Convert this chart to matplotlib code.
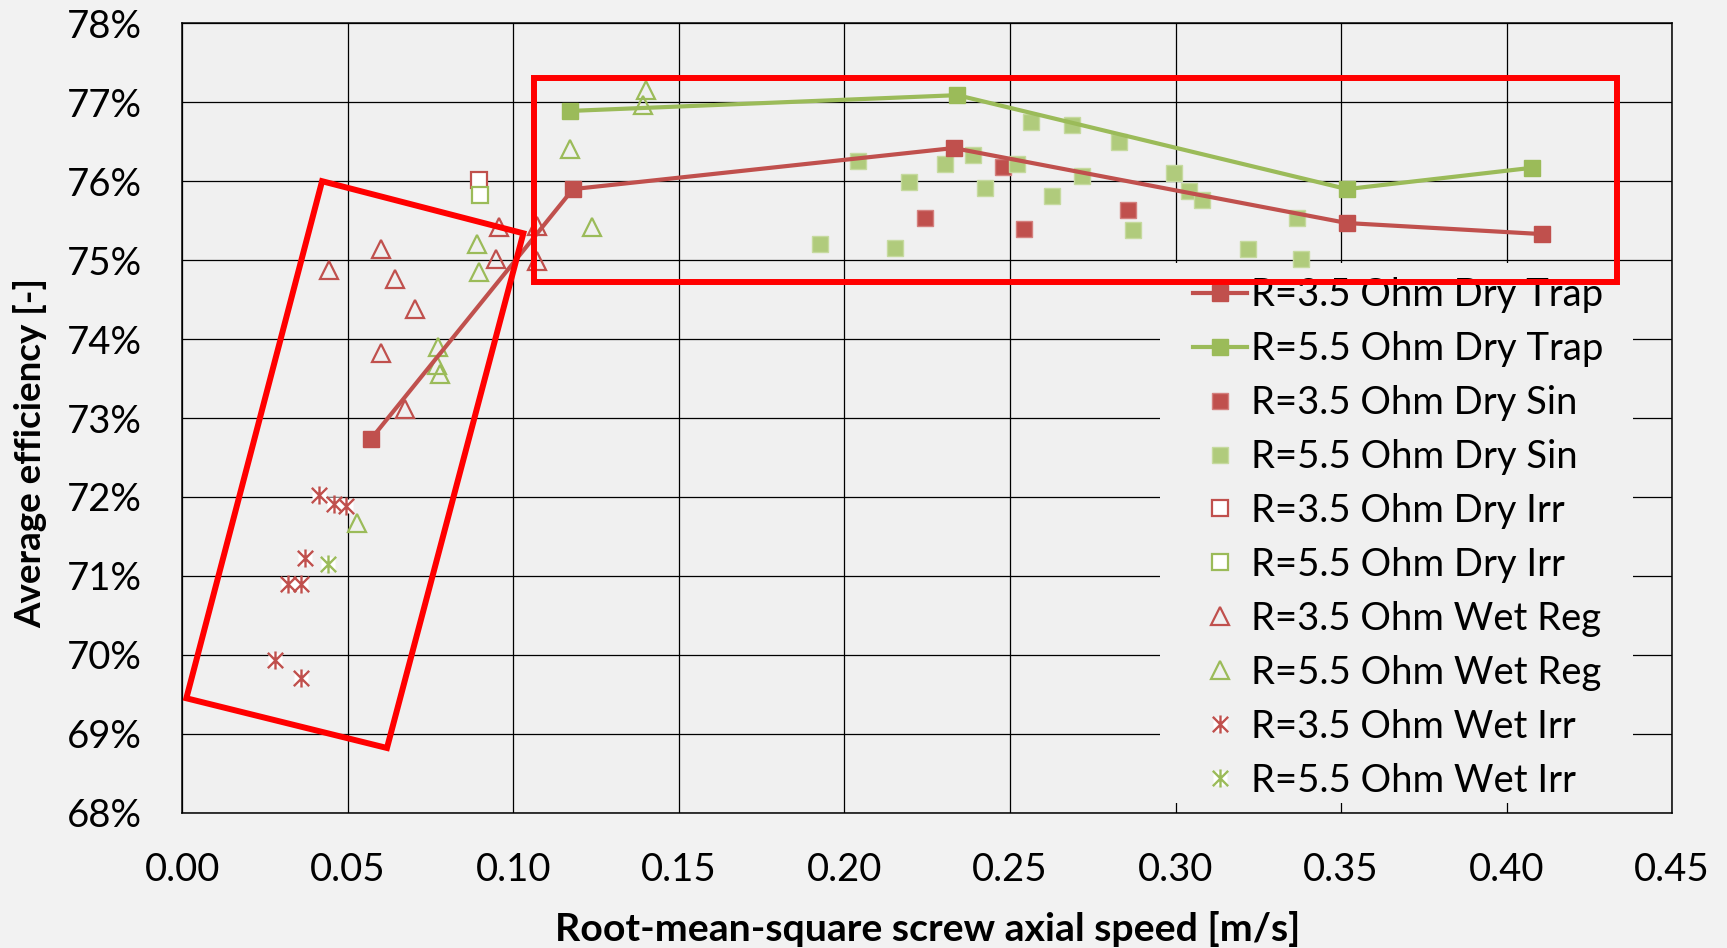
import numpy as np
import matplotlib
matplotlib.use('Agg')
import matplotlib.pyplot as plt
from matplotlib.path import Path
from matplotlib.patches import Polygon, Rectangle
from matplotlib.legend_handler import HandlerTuple
from matplotlib.ticker import FuncFormatter, MultipleLocator

plt.rcParams['font.family'] = ['Lato', 'DejaVu Sans']

# ---------------------------------------------------------------------------
# Data (x = RMS screw axial speed [m/s], y = average efficiency [%])
# ---------------------------------------------------------------------------
trap35_x = [0.0569, 0.1180, 0.2330, 0.3518, 0.4107]
trap35_y = [72.73, 75.90, 76.42, 75.47, 75.33]
trap55_x = [0.1171, 0.2341, 0.3518, 0.4077]
trap55_y = [76.89, 77.09, 75.90, 76.17]

sin35_x = [0.2242, 0.2478, 0.2542, 0.2855]
sin35_y = [75.53, 76.18, 75.40, 75.63]
sin55_x = [0.1925, 0.2042, 0.2154, 0.2196, 0.2304, 0.2387, 0.2425, 0.2522,
           0.2563, 0.2626, 0.2687, 0.2717, 0.2828, 0.2871, 0.2995, 0.3042,
           0.3080, 0.3218, 0.3368, 0.3380]
sin55_y = [75.20, 76.25, 75.16, 75.99, 76.22, 76.33, 75.91, 76.22,
           76.75, 75.81, 76.71, 76.07, 76.50, 75.38, 76.11, 75.87,
           75.76, 75.14, 75.53, 75.02]

irr35_x = [0.0896]
irr35_y = [76.02]
irr55_x = [0.0898]
irr55_y = [75.82]

wetreg35_x = [0.0442, 0.0599, 0.0600, 0.0641, 0.0671, 0.0702, 0.0948, 0.0955, 0.1071, 0.1071]
wetreg35_y = [74.87, 73.82, 75.14, 74.76, 73.11, 74.38, 75.02, 75.42, 75.43, 74.99]
wetreg55_x = [0.0528, 0.0769, 0.0772, 0.0778, 0.0891, 0.0895, 0.1171, 0.1237, 0.1390, 0.1401]
wetreg55_y = [71.67, 73.67, 73.90, 73.56, 75.20, 74.85, 76.41, 75.42, 76.96, 77.15]

wetirr35_x = [0.0281, 0.0318, 0.0359, 0.0359, 0.0369, 0.0414, 0.0459, 0.0495]
wetirr35_y = [69.94, 70.90, 70.90, 69.71, 71.23, 72.03, 71.91, 71.88]
wetirr55_x = [0.0440]
wetirr55_y = [71.15]

# highlight boxes drawn on the chart (data coordinates)
box_low_x = [0.0422, 0.1030, 0.0618, 0.0012]
box_low_y = [76.00, 75.34, 68.82, 69.45]
box_high_x = [0.1062, 0.4335, 0.4335, 0.1062]
box_high_y = [77.31, 77.31, 74.72, 74.72]

labels = ['R=3.5 Ohm Dry Trap', 'R=5.5 Ohm Dry Trap',
          'R=3.5 Ohm Dry Sin', 'R=5.5 Ohm Dry Sin',
          'R=3.5 Ohm Dry Irr', 'R=5.5 Ohm Dry Irr',
          'R=3.5 Ohm Wet Reg', 'R=5.5 Ohm Wet Reg',
          'R=3.5 Ohm Wet Irr', 'R=5.5 Ohm Wet Irr']

RED = '#C0504D'
GREEN = '#9BBB59'
PLOT_BG = '#F0F0F0'

# Excel-style asterisk: vertical bar + X
star = Path([(0, -1), (0, 1), (-0.85, -0.85), (0.85, 0.85), (-0.85, 0.85), (0.85, -0.85)],
            [Path.MOVETO, Path.LINETO, Path.MOVETO, Path.LINETO, Path.MOVETO, Path.LINETO])

# ---------------------------------------------------------------------------
# Plot
# ---------------------------------------------------------------------------
fig = plt.figure(figsize=(17.27, 9.48), dpi=100, facecolor='#F2F2F2')
ax = fig.add_axes([0.1056, 0.1427, 0.8626, 0.8327])
ax.set_facecolor(PLOT_BG)

h1, = ax.plot(trap35_x, trap35_y, '-s', color=RED, lw=3, ms=11.5, zorder=4)
h2, = ax.plot(trap55_x, trap55_y, '-s', color=GREEN, lw=3, ms=11.5, zorder=4)
h3, = ax.plot(sin35_x, sin35_y, 's', ls='none', mfc=RED, mec='#D4807E', mew=1, ms=12, zorder=3)
h4, = ax.plot(sin55_x, sin55_y, 's', ls='none', mfc='#B0CB7C', mec='#C6DA9F', mew=1, ms=12, zorder=3)
h5, = ax.plot(irr35_x, irr35_y, 's', ls='none', mfc='white', mec=RED, mew=1.6, ms=11.5, zorder=3)
h6, = ax.plot(irr55_x, irr55_y, 's', ls='none', mfc='white', mec=GREEN, mew=1.6, ms=11.5, zorder=3)
h7, = ax.plot(wetreg35_x, wetreg35_y, '^', ls='none', mfc='none', mec=RED, mew=1.6, ms=12.5, zorder=3)
h8, = ax.plot(wetreg55_x, wetreg55_y, '^', ls='none', mfc='none', mec=GREEN, mew=1.6, ms=12.5, zorder=3)
b9, = ax.plot(wetirr35_x, wetirr35_y, 's', ls='none', mfc='white', mec='none', ms=10, zorder=3)
s9, = ax.plot(wetirr35_x, wetirr35_y, marker=star, ls='none', mec=RED, mew=1.7, ms=13, zorder=3)
b10, = ax.plot(wetirr55_x, wetirr55_y, 's', ls='none', mfc='white', mec='none', ms=10, zorder=3)
s10, = ax.plot(wetirr55_x, wetirr55_y, marker=star, ls='none', mec=GREEN, mew=1.7, ms=13, zorder=3)

# red highlight boxes
for bx, by in ((box_low_x, box_low_y), (box_high_x, box_high_y)):
    ax.add_patch(Polygon(np.column_stack([bx, by]), closed=True, fill=False,
                         edgecolor='#FF0000', lw=4.3, zorder=10))

ax.set_xlim(0, 0.45)
ax.set_ylim(68, 78)
ax.xaxis.set_major_locator(MultipleLocator(0.05))
ax.yaxis.set_major_locator(MultipleLocator(1))
ax.xaxis.set_major_formatter(FuncFormatter(lambda v, p: f'{v:.2f}'))
ax.yaxis.set_major_formatter(FuncFormatter(lambda v, p: f'{v:.0f}%'))
ax.tick_params(length=0, labelsize=27.5, colors='black')
ax.tick_params(axis='x', pad=28)
ax.tick_params(axis='y', pad=29)
ax.grid(True, color='black', lw=0.9, zorder=0)
ax.set_axisbelow(True)
for sp in ax.spines.values():
    sp.set_color('black')
    sp.set_linewidth(1.1)

ax.set_xlabel('Root-mean-square screw axial speed [m/s]', fontsize=28.3, fontweight='bold')
ax.set_ylabel('Average efficiency [-]', fontsize=26.5, fontweight='bold')
ax.xaxis.set_label_coords(0.5, -0.147)
ax.xaxis.label.set_va('center')
ax.yaxis.set_label_coords(-0.102, 0.456)
ax.yaxis.label.set_va('center')

# legend background panel (hides the gridlines behind the legend, like Excel)
ax.add_patch(Rectangle((0.656, 0.0123), 0.318, 0.684, transform=ax.transAxes,
                       facecolor=PLOT_BG, edgecolor='none', zorder=1))

leg = ax.legend([h1, h2, h3, h4, h5, h6, h7, h8, (b9, s9), (b10, s10)], labels,
                handler_map={tuple: HandlerTuple(ndivide=1)},
                loc='upper left', bbox_to_anchor=(0.6785, 0.6786), borderaxespad=0,
                fontsize=27.5, frameon=False, handlelength=1.41, handletextpad=0.1,
                labelspacing=0.47, borderpad=0)
leg.set_zorder(5)

fig.savefig('out.png', dpi=100, facecolor=fig.get_facecolor())
